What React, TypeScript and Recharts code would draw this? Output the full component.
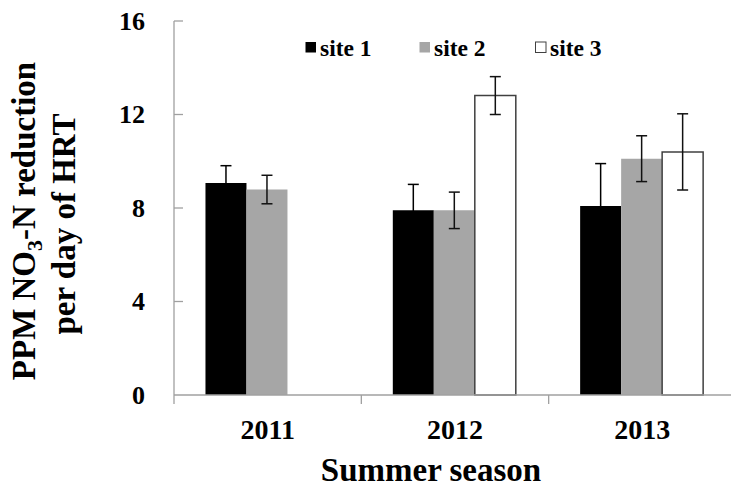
import React from "react";
import { Bar, BarChart, ErrorBar, XAxis, YAxis } from "recharts";

const years = ["2011", "2012", "2013"];
const site1 = [9.07, 7.9, 8.09];
const site1Err = [0.74, 1.11, 1.81];
const site2 = [8.79, 7.9, 10.11];
const site2Err = [0.61, 0.78, 0.98];
const site3 = [null, 12.81, 10.4];
const site3Err = [null, 0.81, 1.63];
const yTicks = [0, 4, 8, 12, 16];

const seriesNames = ["site 1", "site 2", "site 3"];
const seriesFill = ["#000000", "#a6a6a6", "#ffffff"];

const FONT = "'Liberation Serif', 'Times New Roman', serif";
const AXIS_GRAY = "#a0a0a0";

const data = years.map((year, i) => ({
  year,
  s1: site1[i],
  e1: site1Err[i],
  s2: site2[i],
  e2: site2Err[i],
  s3: site3[i],
  e3: site3Err[i],
}));

const X_MARGIN = 24;
const Y_MARGIN = 29;

const XTick = (props: any) => {
  const { x, y, payload, width } = props;
  const half =
    payload && payload.offset > 0 ? payload.offset : Number(width) / years.length / 2;
  const axisY = y - X_MARGIN;
  return (
    <g>
      <line x1={x - half} x2={x - half} y1={axisY} y2={axisY + 9} stroke={AXIS_GRAY} strokeWidth={1.3} />
      <text
        x={x}
        y={y}
        dy="0.71em"
        textAnchor="middle"
        fontFamily={FONT}
        fontWeight="bold"
        fontSize={28}
        fill="#000"
      >
        {payload.value}
      </text>
    </g>
  );
};

const YTick = (props: any) => {
  const { x, y, payload } = props;
  const axisX = x + Y_MARGIN;
  return (
    <g>
      {payload.value !== 0 && (
        <line x1={axisX} x2={axisX + 9} y1={y} y2={y} stroke={AXIS_GRAY} strokeWidth={1.3} />
      )}
      <text
        x={x}
        y={y}
        dy="0.34em"
        textAnchor="end"
        fontFamily={FONT}
        fontWeight="bold"
        fontSize={26}
        fill="#000"
      >
        {payload.value}
      </text>
    </g>
  );
};

const YTitle = (props: any) => {
  const { viewBox } = props;
  const cy = viewBox.y + viewBox.height / 2 + 13;
  const x1 = viewBox.x + 35;
  const x2 = viewBox.x + 75;
  return (
    <g fontFamily={FONT} fontWeight="bold" fontSize={33} fill="#000">
      <text x={x1} y={cy} textAnchor="middle" transform={`rotate(-90 ${x1} ${cy})`}>
        PPM NO
        <tspan fontSize={22} dy={7}>3</tspan>
        <tspan dy={-7}>-N reduction</tspan>
      </text>
      <text x={x2} y={cy + 3} textAnchor="middle" transform={`rotate(-90 ${x2} ${cy + 3})`}>
        per day of HRT
      </text>
    </g>
  );
};

const XTitle = (props: any) => {
  const { viewBox } = props;
  return (
    <text
      x={viewBox.x + viewBox.width / 2 - 24}
      y={viewBox.y + 86}
      textAnchor="middle"
      fontFamily={FONT}
      fontWeight="bold"
      fontSize={33}
      fill="#000"
    >
      Summer season
    </text>
  );
};

const legendX = [305, 419, 535];

const App: React.FC = () => {
  return (
    <div style={{ position: "absolute", left: 0, top: 0, width: 731, height: 490, overflow: "hidden", background: "#fff" }}>
      <BarChart
        width={740}
        height={490}
        data={data}
        margin={{ top: 21, right: 4, left: 0, bottom: 35 }}
        barCategoryGap="16.8%"
        barGap={0}
      >
        <XAxis
          dataKey="year"
          height={60}
          tickLine={false}
          tickSize={0}
          tickMargin={X_MARGIN}
          axisLine={{ stroke: AXIS_GRAY, strokeWidth: 1.3 }}
          tick={<XTick />}
          label={{ content: <XTitle /> }}
        />
        <YAxis
          width={174}
          domain={[0, 16]}
          ticks={yTicks}
          interval={0}
          tickLine={false}
          tickSize={0}
          tickMargin={Y_MARGIN}
          axisLine={{ stroke: AXIS_GRAY, strokeWidth: 1.3 }}
          tick={<YTick />}
          label={{ content: <YTitle /> }}
        />
        <Bar dataKey="s1" name={seriesNames[0]} fill={seriesFill[0]} isAnimationActive={false}>
          <ErrorBar dataKey="e1" width={5.5} strokeWidth={1.5} stroke="#000" direction="y" />
        </Bar>
        <Bar dataKey="s2" name={seriesNames[1]} fill={seriesFill[1]} isAnimationActive={false}>
          <ErrorBar dataKey="e2" width={5.5} strokeWidth={1.5} stroke="#111" direction="y" />
        </Bar>
        <Bar
          dataKey="s3"
          name={seriesNames[2]}
          fill={seriesFill[2]}
          stroke="#404040"
          strokeWidth={1.5}
          isAnimationActive={false}
        >
          <ErrorBar dataKey="e3" width={5.5} strokeWidth={1.5} stroke="#111" direction="y" />
        </Bar>
      </BarChart>
      <svg width={731} height={490} style={{ position: "absolute", left: 0, top: 0, pointerEvents: "none" }}>
        {seriesNames.map((name, i) => (
          <g key={name}>
            <rect
              x={legendX[i] + 0.5}
              y={42}
              width={10.5}
              height={10.5}
              fill={seriesFill[i]}
              stroke={i === 2 ? "#404040" : "none"}
              strokeWidth={1}
            />
            <text x={legendX[i] + 15} y={56} fontFamily={FONT} fontWeight="bold" fontSize={23.5} fill="#000">
              {name}
            </text>
          </g>
        ))}
      </svg>
    </div>
  );
};

export default App;
